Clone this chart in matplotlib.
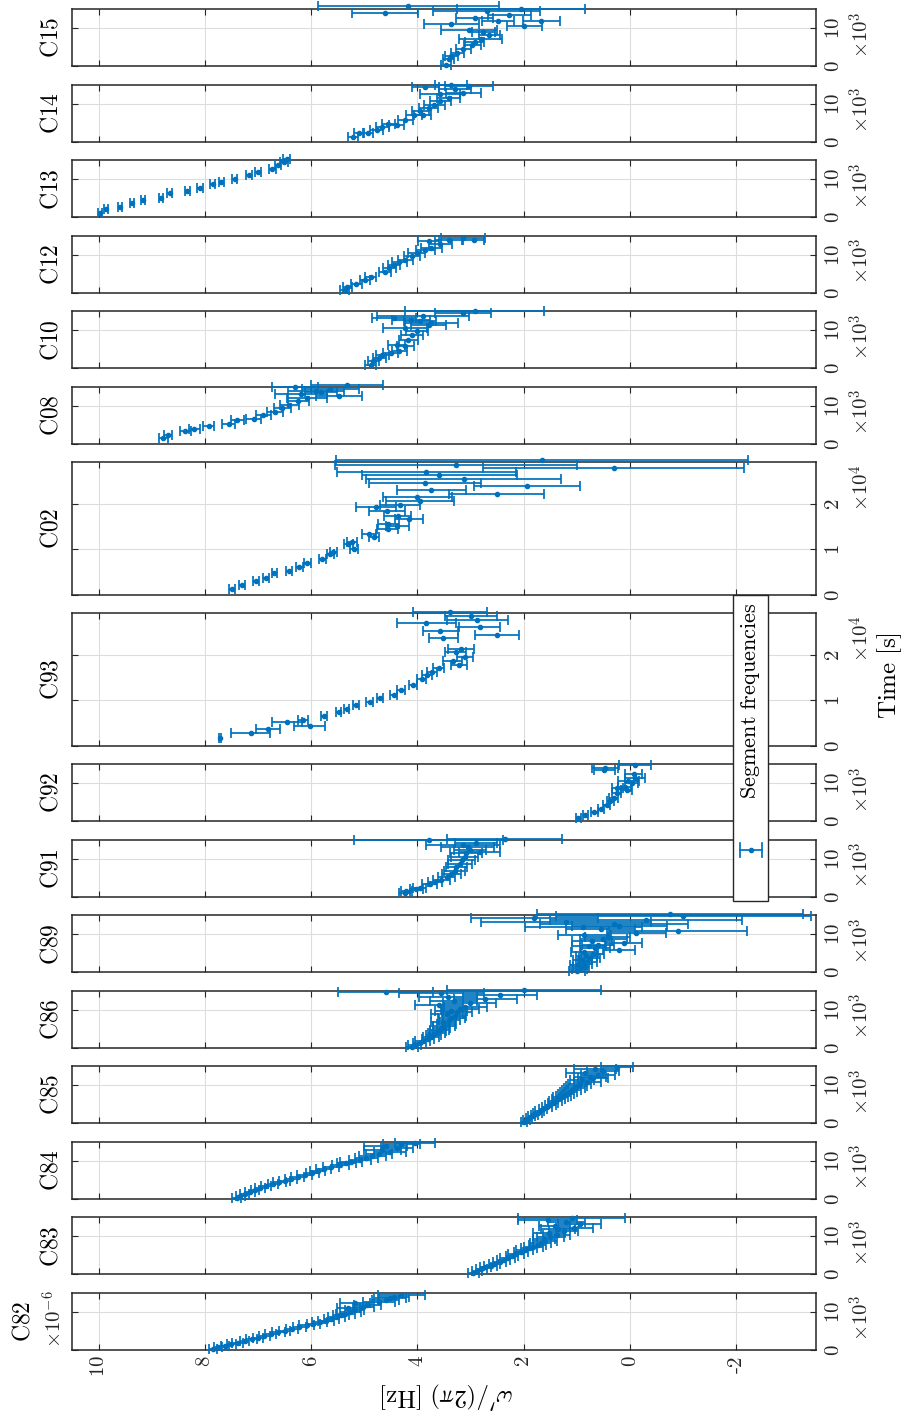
import matplotlib
matplotlib.use('Agg')
from matplotlib import pyplot as plt
from matplotlib.patches import Rectangle
from matplotlib.lines import Line2D

plt.rcParams['mathtext.fontset'] = 'cm'
plt.rcParams['font.family'] = 'serif'

# segment times [ks], frequencies [1e-6 Hz] and frequency errors, per chamber
t82 = [0.3,0.7,1.1,1.5,1.9,2.3,2.8,3.2,3.7,4.1,4.6,5.0,5.5,5.9,6.4,6.8,7.3,7.7,8.2,8.6,9.1,9.5,10.0,10.4,10.9,11.3,11.8,12.2,12.7,13.1,13.6,14.0,14.5]
f82 = [7.85,7.75,7.62,7.5,7.38,7.25,7.12,7.0,6.88,6.76,6.62,6.5,6.36,6.22,6.08,5.96,5.84,5.72,5.62,5.52,5.44,5.36,5.26,5.18,5.3,5.02,4.94,5.18,4.72,4.6,4.52,4.44,4.3]
e82 = [0.08,0.08,0.08,0.08,0.1,0.08,0.1,0.1,0.1,0.1,0.12,0.1,0.12,0.12,0.14,0.12,0.14,0.15,0.14,0.16,0.15,0.18,0.2,0.18,0.22,0.2,0.25,0.28,0.3,0.25,0.3,0.28,0.45]

t83 = [0.3,0.8,1.3,1.8,2.3,2.8,3.3,3.8,4.3,4.8,5.3,5.8,6.3,6.8,7.3,7.8,8.3,8.8,9.3,9.8,10.3,10.8,11.3,11.8,12.3,12.8,13.3,13.8,14.3,14.7]
f83 = [2.95,2.88,2.8,2.72,2.62,2.55,2.45,2.38,2.3,2.22,2.15,2.05,1.98,1.9,1.82,1.74,1.68,1.6,1.62,1.5,1.38,1.52,1.25,1.35,1.05,1.42,0.95,1.2,1.55,1.1]
e83 = [0.1,0.1,0.1,0.1,0.12,0.1,0.12,0.12,0.14,0.12,0.15,0.14,0.16,0.15,0.18,0.16,0.2,0.22,0.2,0.25,0.25,0.3,0.28,0.32,0.35,0.3,0.4,0.35,0.55,1.0]

t84 = [0.3,0.8,1.3,1.8,2.3,2.8,3.3,3.8,4.3,4.8,5.3,5.8,6.3,6.8,7.3,7.8,8.3,8.8,9.3,9.8,10.3,10.8,11.3,11.8,12.3,12.8,13.3,13.8,14.3,14.8]
f84 = [7.4,7.33,7.25,7.15,7.06,6.96,6.85,6.72,6.6,6.5,6.38,6.25,6.12,5.98,5.88,5.76,5.62,5.45,5.34,5.25,5.08,4.96,4.85,4.72,4.52,4.66,4.38,4.6,4.3,4.05]
e84 = [0.08,0.08,0.08,0.1,0.08,0.1,0.1,0.1,0.12,0.1,0.12,0.12,0.14,0.12,0.15,0.14,0.15,0.16,0.18,0.2,0.2,0.22,0.25,0.25,0.3,0.35,0.3,0.4,0.35,0.38]

t85 = [0.3,0.8,1.3,1.8,2.3,2.8,3.3,3.8,4.3,4.8,5.3,5.8,6.3,6.8,7.3,7.8,8.3,8.8,9.3,9.8,10.3,10.8,11.3,11.8,12.3,12.8,13.3,13.8,14.3,14.8]
f85 = [2.0,1.95,1.9,1.85,1.8,1.74,1.7,1.64,1.56,1.5,1.45,1.4,1.35,1.3,1.25,1.2,1.15,1.1,1.05,1.0,0.95,0.8,0.9,0.7,0.76,0.6,0.85,0.5,0.66,0.25]
e85 = [0.06,0.06,0.06,0.07,0.07,0.08,0.08,0.08,0.1,0.1,0.1,0.12,0.12,0.14,0.14,0.15,0.16,0.18,0.2,0.2,0.22,0.25,0.22,0.28,0.3,0.32,0.35,0.3,0.4,0.3]

t86 = [0.3,0.8,1.3,1.8,2.3,2.8,3.3,3.8,4.3,4.8,5.3,5.8,6.3,6.8,7.3,7.8,8.3,8.8,9.3,9.8,10.3,10.8,11.3,11.8,12.3,12.8,13.3,13.8,14.3,14.8,15.3]
f86 = [4.1,4.05,3.96,3.9,3.8,3.75,3.7,3.65,3.62,3.58,3.55,3.5,3.46,3.52,3.4,3.36,3.3,3.45,3.25,3.36,3.2,3.1,3.6,3.02,3.32,2.72,3.42,2.45,3.55,4.6,2.0]
e86 = [0.12,0.12,0.12,0.14,0.12,0.15,0.14,0.16,0.15,0.18,0.16,0.2,0.18,0.22,0.2,0.25,0.22,0.3,0.28,0.3,0.35,0.4,0.45,0.5,0.45,0.6,0.55,0.7,0.8,0.9,1.45]

t89 = [0.3,0.8,1.3,1.8,2.3,2.8,3.3,3.8,4.3,4.8,5.3,5.8,6.3,6.8,7.3,7.8,8.3,8.8,9.3,9.8,10.3,10.8,11.3,11.8,12.3,12.8,13.3,13.8,14.3,14.8,15.3]
f89 = [1.0,0.95,0.92,0.96,0.86,0.8,0.9,0.76,0.82,0.7,0.86,0.2,0.66,0.78,0.6,0.12,0.72,0.5,0.42,0.86,-0.12,-0.9,0.55,0.88,0.2,0.3,1.2,-0.3,1.8,-1.0,-0.75]
e89 = [0.15,0.15,0.15,0.16,0.15,0.18,0.18,0.2,0.2,0.22,0.25,0.3,0.28,0.32,0.3,0.35,0.38,0.45,0.42,0.5,0.55,1.3,0.65,1.1,0.9,1.4,1.6,1.8,1.2,2.4,2.5]

t91 = [0.9,1.5,2.0,2.4,3.3,3.8,4.5,5.1,6.0,6.9,7.8,8.7,9.6,10.5,11.4,11.9,12.3,13.2,13.7,14.1,15.0,15.3]
f91 = [4.24,4.21,4.02,3.96,3.77,3.67,3.55,3.45,3.36,3.3,3.27,3.2,3.17,3.11,3.08,2.83,3.01,3.05,3.14,2.9,3.79,2.36]
e91 = [0.1,0.1,0.12,0.12,0.14,0.14,0.16,0.16,0.18,0.2,0.2,0.22,0.25,0.25,0.3,0.38,0.3,0.5,0.7,0.4,1.4,1.08]

t92 = [0.85,1.6,2.5,3.3,4.2,5.3,6.15,7.4,8.3,8.7,9.1,10.0,10.7,11.5,12.4,13.4,14.0,14.7]
f92 = [0.97,0.84,0.67,0.55,0.44,0.37,0.31,0.25,0.06,0.24,0.1,-0.03,0.03,-0.09,-0.07,0.48,0.47,-0.09]
e92 = [0.05,0.05,0.06,0.06,0.07,0.07,0.08,0.08,0.1,0.1,0.12,0.12,0.19,0.19,0.16,0.2,0.25,0.3]

t93 = [1.63,2.81,3.7,4.44,5.17,5.77,6.5,7.39,8.13,9.0,9.76,10.57,11.3,12.2,13.45,14.8,15.5,16.3,17.2,17.9,18.6,19.6,20.7,21.4,23.65,24.4,25.3,26.1,27.0,27.7,28.6,29.5]
f93 = [7.72,7.14,6.81,6.03,6.46,6.15,5.76,5.48,5.33,5.16,4.9,4.7,4.45,4.31,4.08,3.92,3.82,3.73,3.6,3.22,3.34,3.1,3.28,3.18,3.51,2.5,3.57,2.83,3.83,2.87,2.99,3.39]
e93 = [0.02,0.36,0.23,0.3,0.28,0.1,0.05,0.05,0.05,0.06,0.06,0.06,0.07,0.07,0.08,0.08,0.09,0.09,0.1,0.15,0.17,0.15,0.2,0.25,0.28,0.41,0.33,0.38,0.55,0.58,0.49,0.69]

t02 = [1.33,2.22,2.96,3.7,4.8,5.3,6.1,7.0,7.8,8.9,9.5,10.2,11.1,11.7,12.8,13.5,14.4,15.2,15.7,16.7,17.4,18.5,19.3,19.9,20.6,21.5,22.2,23.1,23.9,24.7,25.6,26.4,27.0,28.0,28.7,29.6]
f02 = [7.49,7.3,7.04,6.85,6.69,6.42,6.22,6.07,5.79,5.64,5.58,5.19,5.3,5.23,4.82,4.91,4.56,4.38,4.55,4.16,4.37,4.57,4.78,4.33,3.96,4.0,2.51,3.74,1.94,3.86,3.13,3.59,3.83,0.31,3.28,1.66]
e02 = [0.05,0.05,0.05,0.05,0.05,0.06,0.06,0.06,0.07,0.07,0.07,0.08,0.08,0.1,0.1,0.13,0.2,0.22,0.2,0.27,0.25,0.34,0.38,0.38,0.64,0.65,0.9,0.65,0.99,1.05,1.83,1.46,1.68,2.45,2.28,3.88]

t08 = [1.4,2.3,3.3,4.0,4.7,5.3,6.3,6.5,7.5,8.4,9.3,10.3,11.2,12.1,12.6,13.1,13.6,14.0,14.5,15.0,15.4]
f08 = [8.78,8.69,8.37,8.2,7.93,7.55,7.39,7.08,6.9,6.68,6.54,6.41,6.24,6.08,5.48,6.19,5.81,5.91,5.64,6.3,5.32]
e08 = [0.08,0.08,0.1,0.1,0.1,0.12,0.12,0.14,0.14,0.15,0.16,0.18,0.2,0.38,0.43,0.49,0.3,0.52,0.54,0.43,0.68]

t10 = [0.9,1.8,2.7,3.4,4.0,4.6,5.8,6.2,7.5,8.8,9.7,10.6,11.5,11.9,12.4,12.8,13.3,13.7,14.6,15.0]
f10 = [4.88,4.83,4.72,4.66,4.5,4.34,4.23,4.39,4.17,4.1,4.01,4.23,3.79,3.74,3.95,4.12,4.44,3.9,3.14,2.92]
e10 = [0.1,0.1,0.12,0.12,0.14,0.14,0.16,0.16,0.18,0.2,0.2,0.41,0.33,0.5,0.3,0.35,0.41,0.87,0.52,1.31]

t12 = [0.7,1.6,2.2,3.4,4.2,5.6,6.5,7.3,8.1,8.7,9.6,10.4,11.3,11.9,12.8,13.7,14.0,14.0,14.4]
f12 = [5.37,5.32,5.15,4.99,4.88,4.61,4.53,4.44,4.34,4.23,4.1,4.01,3.85,3.74,3.57,3.79,3.41,2.94,3.14]
e12 = [0.08,0.08,0.1,0.1,0.1,0.12,0.12,0.12,0.14,0.14,0.15,0.16,0.18,0.2,0.22,0.19,0.25,0.2,0.41]

t13 = [1.2,2.1,2.8,3.65,4.5,5.2,6.3,7.0,7.65,8.7,9.3,10.2,11.0,11.9,12.8,13.7,14.5,15.4]
f13 = [9.98,9.86,9.6,9.37,9.16,8.82,8.66,8.33,8.09,7.85,7.69,7.44,7.17,7.0,6.73,6.62,6.51,6.46]
e13 = [0.04,0.04,0.04,0.04,0.04,0.04,0.05,0.05,0.05,0.05,0.05,0.05,0.06,0.06,0.06,0.06,0.07,0.07]

t14 = [1.3,2.2,2.4,3.1,4.0,4.5,4.7,5.8,7.1,7.1,8.0,8.9,9.8,10.7,11.6,12.5,12.9,13.8,14.3,14.6,14.9]
f14 = [5.21,5.1,4.93,4.77,4.66,4.39,4.55,4.23,4.06,3.9,3.95,3.79,3.68,3.57,3.41,3.57,3.14,3.3,3.85,3.03,3.36]
e14 = [0.1,0.1,0.1,0.12,0.12,0.14,0.12,0.14,0.15,0.16,0.16,0.18,0.2,0.2,0.22,0.38,0.33,0.3,0.26,0.46,0.3]

t15 = [0.45,1.8,2.7,3.6,4.5,5.5,6.4,7.3,8.2,9.1,9.5,10.5,11.1,11.8,12.0,12.7,13.6,14.1,14.5,15.0,15.9]
f15 = [3.46,3.41,3.36,3.25,3.14,2.97,2.92,2.81,2.65,2.76,3.03,1.99,3.36,2.48,1.67,2.92,2.27,4.61,2.7,2.05,4.17]
e15 = [0.1,0.1,0.12,0.12,0.14,0.16,0.18,0.4,0.2,0.22,0.52,0.33,0.52,0.3,0.35,0.35,0.4,0.62,1.0,1.2,1.7]

# bottom to top on the page
names = ['C82','C83','C84','C85','C86','C89','C91','C92','C93','C02','C08','C10','C12','C13','C14','C15']
series = [(t82,f82,e82),(t83,f83,e83),(t84,f84,e84),(t85,f85,e85),(t86,f86,e86),
          (t89,f89,e89),(t91,f91,e91),(t92,f92,e92),(t93,f93,e93),(t02,f02,e02),
          (t08,f08,e08),(t10,f10,e10),(t12,f12,e12),(t13,f13,e13),(t14,f14,e14),(t15,f15,e15)]
long_runs = ['C93','C02']
freq_ticks = [10, 8, 6, 4, 2, 0, -2]
freq_labels = ['$10$', '$8$', '$6$', '$4$', '$2$', '$0$', r'$\text{-}2$']

W, H = 908., 1417.
blue = '#0072BD'
dark = '#262626'
pitch, gap = 75.5, 18.5
x0, x1 = 72., 816.


def fx(px):
    return px/W


def fy(py):
    return 1-py/H


def draw_panel(fig, name, data, bottom, height, first):
    ax = fig.add_axes([fx(x0), fy(bottom), fx(x1-x0), height/H])
    t, f, e = data
    cont = ax.errorbar(f, [v*1e3 for v in t], xerr=e, fmt='.', color=blue, ms=6,
                       lw=1.25, capsize=3.6, capthick=1.25, zorder=3)
    for a in [cont.lines[0]] + list(cont.lines[1]) + list(cont.lines[2]):
        a.set_clip_on(False)
    ax.set_xlim(10.5, -3.5)
    if name in long_runs:
        ax.set_ylim(0, 29200)
        yt, ylab, expo = [0, 10000, 20000], ['$0$', '$1$', '$2$'], r'$\times10^{4}$'
    else:
        ax.set_ylim(0, 15000)
        yt, ylab, expo = [0, 10000], ['$0$', '$10$'], r'$\times10^{3}$'
    ax.set_xticks(freq_ticks)
    ax.set_yticks(yt)
    ax.yaxis.tick_right()
    ax.set_yticklabels(ylab, rotation=90, va='center', fontsize=15)
    if first:
        ax.set_xticklabels(freq_labels, rotation=90, fontsize=15)
    else:
        ax.set_xticklabels([])
    ax.tick_params(direction='in', length=4.5, width=0.8, color=dark, labelcolor=dark,
                   top=True, bottom=True, left=True, right=True, pad=6)
    ax.tick_params(axis='x', pad=4)
    ax.grid(True, color='#dddddd', linewidth=0.8)
    ax.set_axisbelow(True)
    for s in ax.spines.values():
        s.set_color(dark)
        s.set_linewidth(1.1)
    top = bottom-height
    # exponent of the time axis
    fig.text(fx(861), fy(top+2), expo, rotation=90, ha='center', va='top', fontsize=15, color=dark)
    # panel title
    tx = 23 if first else 51
    fig.text(fx(tx), fy(bottom-height/2), r'$\mathrm{%s}$' % name, rotation=90,
             ha='center', va='center', fontsize=17)
    return ax


def DoAll():
    fig = plt.figure(figsize=(W/100, H/100), dpi=100)
    bottom = 1349.8
    for i, name in enumerate(names):
        n = 2 if name in long_runs else 1
        height = n*pitch-gap
        draw_panel(fig, name, series[i], bottom, height, i == 0)
        bottom = bottom-height-gap

    fig.text(fx(54), fy(1290), r'$\times10^{-6}$', rotation=90, ha='center', va='top', fontsize=15, color=dark)
    fig.text(fx(447), fy(1395), r"$\omega'/(2\pi)\ \mathrm{[Hz]}$", rotation=180,
             ha='center', va='center', fontsize=18)
    fig.text(fx(890), fy(676), r'$\mathrm{Time\ [s]}$', rotation=90, ha='center', va='center', fontsize=18)

    # legend box
    fig.add_artist(Rectangle((fx(733), fy(901)), fx(35), 306/H, transform=fig.transFigure,
                             facecolor='white', edgecolor=dark, linewidth=1.0, zorder=5))
    fig.text(fx(751), fy(701), r'$\mathrm{Segment\ frequencies}$', rotation=90,
             ha='center', va='center', fontsize=16, zorder=6)
    fig.add_artist(Line2D([fx(740), fx(762)], [fy(850), fy(850)], color=blue, lw=1.25,
                          transform=fig.transFigure, zorder=6))
    for xc in (740, 762):
        fig.add_artist(Line2D([fx(xc), fx(xc)], [fy(843), fy(857)], color=blue, lw=1.25,
                              transform=fig.transFigure, zorder=6))
    fig.add_artist(Line2D([fx(751)], [fy(850)], color=blue, marker='.', ms=6,
                          transform=fig.transFigure, zorder=6))

    fig.savefig('out.png', dpi=100)
    plt.close('all')


if __name__ == '__main__':
    DoAll()
